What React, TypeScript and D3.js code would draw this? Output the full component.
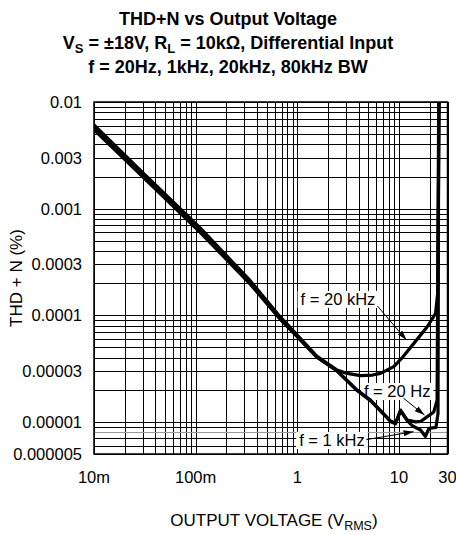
import React, { useEffect, useRef } from "react";
import * as d3 from "d3";

const W = 456;
const H = 535;
const FONT = "'Liberation Sans', Arial, Helvetica, sans-serif";

// X ticks (output voltage, Vrms)
const xTickValues = [0.01, 0.1, 1, 10, 30];
const xTickLabels = ["10m", "100m", "1", "10", "30"];
// Y ticks (THD+N %)
const yTickValues = [0.01, 0.003, 0.001, 0.0003, 0.0001, 0.00003, 0.00001, 0.000005];
const yTickLabels = ["0.01", "0.003", "0.001", "0.0003", "0.0001", "0.00003", "0.00001", "0.000005"];

// f = 20 kHz
const v20k = [0.01, 0.0318, 0.1107, 0.344, 0.68, 1.563, 2.46, 3.09, 4.18, 5.5, 6.57, 8.89, 11, 14.0, 18.97, 22.9, 24.0, 24.9];
const thd20k = [0.0061, 0.00207, 0.00066, 0.000211, 0.0000965, 0.0000412, 0.0000306, 0.0000285, 0.0000272, 0.0000275, 0.0000285, 0.000033, 0.000041, 0.0000545, 0.000078, 0.000104, 0.00016, 0.012];
// f = 20 Hz
const v20 = [0.01, 0.0318, 0.1107, 0.344, 0.68, 1.563, 2.46, 3.87, 5.24, 7.0, 8.24, 9.25, 10.35, 12.05, 14.6, 16.3, 19.0, 22.0, 23.7, 24.6];
const thd20 = [0.0058, 0.00198, 0.00063, 0.000203, 0.0000942, 0.0000406, 0.0000303, 0.0000199, 0.000016, 0.000012, 0.0000102, 0.0000097, 0.0000129, 0.0000104, 0.00001, 0.0000101, 0.0000112, 0.0000124, 0.000016, 0.012];
// f = 1 kHz
const v1k = [0.01, 0.0318, 0.1107, 0.344, 0.68, 1.563, 2.46, 3.87, 5.24, 7.0, 8.24, 9.25, 10.35, 12.05, 13.5, 16.3, 18.2, 19.7, 23.1, 24.2, 24.6];
const thd1k = [0.0055, 0.00189, 0.0006, 0.000196, 0.0000915, 0.0000402, 0.00003, 0.0000197, 0.0000158, 0.0000119, 0.0000101, 0.0000096, 0.0000127, 0.0000103, 0.0000092, 0.0000084, 0.0000073, 0.0000087, 0.0000089, 0.000012, 0.012];

// annotations: label anchor (V, THD) and arrow from/to (V, THD)
const annLabels = ["f = 20 kHz", "f = 20 Hz", "f = 1 kHz"];
const annAt = [[2.51, 1.25e-4], [9.6, 1.71e-5], [2.19, 5.93e-6]];
const annFrom = [[6.14, 1.22e-4], [11.07, 1.67e-5], [4.78, 6.82e-6]];
const annTo = [[11.86, 5.85e-5], [17.8, 1.16e-5], [13.9, 8.1e-6]];

export default function App() {
  const ref = useRef<SVGSVGElement>(null);

  useEffect(() => {
    const svg = d3.select(ref.current);
    svg.selectAll("*").remove();

    const x = d3.scaleLog().domain([0.01, 30]).range([94, 447.5]);
    const y = d3.scaleLog().domain([0.000005, 0.01]).range([454, 102]);

    const defs = svg.append("defs");
    defs.append("clipPath").attr("id", "plotclip")
      .append("rect").attr("x", 94).attr("y", 102).attr("width", 447.5 - 94).attr("height", 454 - 102);
    defs.append("marker").attr("id", "arrowhead")
      .attr("viewBox", "0 0 10 6").attr("refX", 10).attr("refY", 3)
      .attr("markerWidth", 10).attr("markerHeight", 6).attr("markerUnits", "userSpaceOnUse")
      .attr("orient", "auto")
      .append("path").attr("d", "M0,0 L10,3 L0,6 Z").attr("fill", "#000");

    // Title
    const title = svg.append("g").attr("font-family", FONT).attr("font-weight", "bold")
      .attr("font-size", 18).attr("text-anchor", "middle").attr("fill", "#000");
    title.append("text").attr("x", 228).attr("y", 25).text("THD+N vs Output Voltage");
    const t2 = title.append("text").attr("x", 228).attr("y", 49);
    t2.append("tspan").text("V");
    t2.append("tspan").attr("font-size", 13).attr("dy", 4).text("S");
    t2.append("tspan").attr("dy", -4).text(" = ±18V, R");
    t2.append("tspan").attr("font-size", 13).attr("dy", 4).text("L");
    t2.append("tspan").attr("dy", -4).text(" = 10kΩ, Differential Input");
    title.append("text").attr("x", 228).attr("y", 73).text("f = 20Hz, 1kHz, 20kHz, 80kHz BW");

    // Grid
    const grid = svg.append("g").attr("shape-rendering", "crispEdges");
    const xGrid: number[] = [];
    for (const dec of [0.01, 0.1, 1, 10]) {
      for (let m = 1; m <= 9; m++) {
        const v = dec * m;
        if (v <= 30 + 1e-9) xGrid.push(v);
      }
    }
    const yGrid: number[] = [];
    for (const dec of [0.000001, 0.00001, 0.0001, 0.001, 0.01]) {
      for (let m = 1; m <= 9; m++) {
        const v = dec * m;
        if (v >= 0.000005 - 1e-12 && v <= 0.01 + 1e-12) yGrid.push(v);
      }
    }
    grid.selectAll("line.vx").data(xGrid).enter().append("line")
      .attr("x1", (d) => Math.round(x(d)) + 0.5).attr("x2", (d) => Math.round(x(d)) + 0.5)
      .attr("y1", 102).attr("y2", 454).attr("stroke", "#000").attr("stroke-width", 1);
    grid.selectAll("line.hy").data(yGrid).enter().append("line")
      .attr("y1", (d) => Math.round(y(d)) + 0.5).attr("y2", (d) => Math.round(y(d)) + 0.5)
      .attr("x1", 94).attr("x2", 447.5)
      .attr("stroke", (d) => (Math.abs(d - 0.000008) < 1e-10 ? "#999" : "#000"))
      .attr("stroke-width", 1);
    svg.append("rect").attr("x", 94).attr("y", 102).attr("width", 447.5 - 94).attr("height", 454 - 102)
      .attr("fill", "none").attr("stroke", "#000").attr("stroke-width", 1.5);

    // Annotation boxes + text (boxes first)
    const ann = svg.append("g").attr("font-family", FONT).attr("font-size", 16.5).attr("fill", "#000");
    const boxes = ann.append("g");
    const texts = ann.append("g");
    annLabels.forEach((lab, i) => {
      const t = texts.append("text").attr("x", x(annAt[i][0])).attr("y", y(annAt[i][1]))
        .attr("text-anchor", "middle").text(lab);
      const bb = (t.node() as SVGTextElement).getBBox();
      boxes.append("rect").attr("x", bb.x - 3).attr("y", bb.y + 1).attr("width", bb.width + 6)
        .attr("height", bb.height - 1).attr("fill", "#fff");
    });

    // Curves
    const line = d3.line<[number, number]>().x((d) => x(d[0])).y((d) => y(d[1])).curve(d3.curveLinear);
    const curves = svg.append("g").attr("clip-path", "url(#plotclip)");
    const series: [number[], number[]][] = [[v20k, thd20k], [v20, thd20], [v1k, thd1k]];
    series.forEach(([vs, ts]) => {
      const pts = vs.map((v, i) => [v, ts[i]] as [number, number]);
      curves.append("path").attr("d", line(pts)).attr("fill", "none").attr("stroke", "#000")
        .attr("stroke-width", 3.2).attr("stroke-linejoin", "round");
    });

    // bring texts over curves
    texts.raise();

    // Arrows
    const arrows = svg.append("g");
    annLabels.forEach((_, i) => {
      arrows.append("line")
        .attr("x1", x(annFrom[i][0])).attr("y1", y(annFrom[i][1]))
        .attr("x2", x(annTo[i][0])).attr("y2", y(annTo[i][1]))
        .attr("stroke", "#000").attr("stroke-width", 1).attr("marker-end", "url(#arrowhead)");
    });

    // Y tick labels
    const yl = svg.append("g").attr("font-family", FONT).attr("font-size", 16.5).attr("fill", "#000")
      .attr("text-anchor", "end");
    yl.selectAll("text").data(yTickValues).enter().append("text")
      .attr("x", 82).attr("y", (d) => y(d) + 6).text((_, i) => yTickLabels[i]);

    // X tick labels
    const xl = svg.append("g").attr("font-family", FONT).attr("font-size", 16.5).attr("fill", "#000")
      .attr("text-anchor", "middle");
    xl.selectAll("text").data(xTickValues).enter().append("text")
      .attr("x", (d) => x(d)).attr("y", 483).text((_, i) => xTickLabels[i]);

    // Axis titles
    svg.append("text").attr("font-family", FONT).attr("font-size", 17).attr("text-anchor", "middle")
      .attr("transform", "translate(22,278) rotate(-90)").text("THD + N (%)");
    const xt = svg.append("text").attr("font-family", FONT).attr("font-size", 17).attr("text-anchor", "middle")
      .attr("x", 274).attr("y", 526);
    xt.append("tspan").text("OUTPUT VOLTAGE (V");
    xt.append("tspan").attr("font-size", 12.5).attr("dy", 4).text("RMS");
    xt.append("tspan").attr("dy", -4).text(")");
  }, []);

  return (
    <svg
      ref={ref}
      width={W}
      height={H}
      style={{ position: "absolute", left: 0, top: 0, background: "#fff" }}
    />
  );
}
